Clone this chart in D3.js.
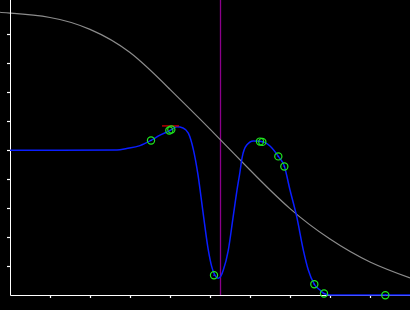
<!DOCTYPE html>
<html><head><meta charset="utf-8">
<script src="https://cdn.jsdelivr.net/npm/d3@7"></script>
<style>html,body{margin:0;padding:0;background:#000;overflow:hidden}</style>
</head><body>
<svg id="c" width="410" height="310"></svg>
<script>
// ---- data ----
const xTicks = [1,2,3,4,5,6,7,8,9];
const yTicks = [0.1,0.2,0.3,0.4,0.5,0.6,0.7,0.8,0.9];
const grayX = [-0.25,0,1,2,3,4,5,6,7,8,9,10];
const grayY = [0.975,0.972,0.957,0.916,0.836,0.709,0.572,0.431,0.298,0.193,0.114,0.059];
const blueX = [0,1.25,2.675,2.917,3.25,3.525,3.75,4.0,4.175,4.325,4.458,4.583,4.7,4.825,4.958,5.043,5.113,5.208,5.275,5.333,5.458,5.575,5.675,5.75,5.8,5.918,6.083,6.25,6.5,6.708,6.858,7.0,7.168,7.333,7.458,7.608,7.75,7.85,8.0,10];
const blueY = [0.499,0.499,0.5,0.505,0.515,0.533,0.551,0.567,0.580,0.576,0.558,0.502,0.414,0.286,0.155,0.098,0.071,0.058,0.066,0.086,0.155,0.266,0.362,0.425,0.472,0.517,0.531,0.530,0.514,0.478,0.444,0.362,0.270,0.155,0.086,0.037,0.017,0.005,0,0];
const markX = [3.525,3.983,4.033,5.1,6.25,6.308,6.708,6.858,7.608,7.85,9.383];
const markY = [0.533,0.567,0.571,0.068,0.529,0.528,0.478,0.443,0.037,0.005,-0.001];
const peakLineX = [3.8,4.225];
const peakLineY = [0.583,0.583];
const vlineX = 5.25;

const svg = d3.select("#c");
const x = d3.scaleLinear().domain([0,10]).range([10,410]);
const y = d3.scaleLinear().domain([0,1]).range([295,5]);

// vertical line
svg.append("line").attr("x1",x(vlineX)+0.5).attr("x2",x(vlineX)+0.5)
  .attr("y1",0).attr("y2",295).attr("stroke","#8b008b").attr("stroke-width",1.3);

// gray curve
const grayPts = grayX.map((d,i)=>[d,grayY[i]]);
svg.append("path").datum(grayPts)
  .attr("d", d3.line().x(d=>x(d[0])).y(d=>y(d[1])).curve(d3.curveNatural))
  .attr("fill","none").attr("stroke","#8c8c8c").attr("stroke-width",1.2);

// axes
const gx = svg.append("g").attr("transform","translate(0,295)")
  .call(d3.axisBottom(x).tickValues(xTicks).tickSize(3).tickSizeOuter(0).tickFormat(""));
const gy = svg.append("g").attr("transform","translate(10,0)")
  .call(d3.axisLeft(y).tickValues(yTicks).tickSize(3).tickSizeOuter(0).tickFormat(""));
gy.select(".domain").remove();
svg.append("line").attr("x1",10.5).attr("x2",10.5).attr("y1",0).attr("y2",295.5).attr("stroke","#fff");
[gx,gy].forEach(g=>{g.selectAll("path,line").attr("stroke","#fff").attr("stroke-width",1.2);});

// blue curve
const bluePts = blueX.map((d,i)=>[d,blueY[i]]);
svg.append("path").datum(bluePts)
  .attr("d", d3.line().x(d=>x(d[0])).y(d=>y(d[1])).curve(d3.curveMonotoneX))
  .attr("fill","none").attr("stroke","#0a1eff").attr("stroke-width",1.5);

// red peak segment
svg.append("line").attr("x1",x(peakLineX[0])).attr("x2",x(peakLineX[1]))
  .attr("y1",y(peakLineY[0])).attr("y2",y(peakLineY[1])).attr("stroke","#d00000").attr("stroke-width",1.3);

// markers
const marks = markX.map((d,i)=>[d,markY[i]]);
svg.selectAll("circle.m").data(marks).enter().append("circle").attr("class","m")
  .attr("cx",d=>x(d[0])).attr("cy",d=>y(d[1])).attr("r",3.6)
  .attr("fill","none").attr("stroke","#1ee81e").attr("stroke-width",1.2);
svg.selectAll("circle.d").data(marks).enter().append("circle").attr("class","d")
  .attr("cx",d=>x(d[0])).attr("cy",d=>y(d[1])).attr("r",0.7)
  .attr("fill","#2040ff");
</script>
</body></html>
